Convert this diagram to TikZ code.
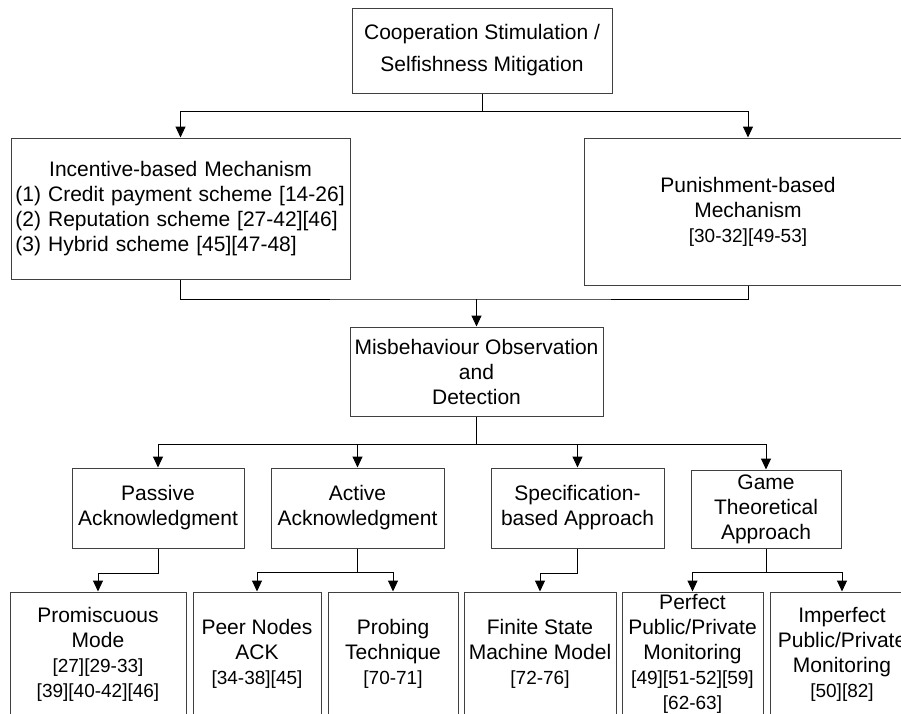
\documentclass[tikz,border=0pt]{standalone}
\usepackage{fontspec}
\setmainfont{Liberation Sans}
\usetikzlibrary{arrows.meta}
\newcommand{\refs}[1]{{\fontsize{19}{25}\selectfont #1}}

\begin{document}
\begin{tikzpicture}[x=1pt,y=-1pt,>={Triangle[length=11pt,width=10pt]},line cap=butt,line join=miter,
  box/.style={draw=black!75,line width=1pt,inner sep=0pt,align=center,font=\fontsize{21}{25}\selectfont},
  link/.style={draw=black,line width=1pt},
  arrow/.style={link,->}]
\useasboundingbox (0,0) rectangle (901,713);
\clip (0,0) rectangle (901,713);
% level 1 and 2
\node[box,minimum width=260,minimum height=85,font=\fontsize{21}{32}\selectfont] (root) at (482,50.5) {Cooperation Stimulation /\\Selfishness Mitigation};
\node[box,minimum width=339,minimum height=141,text width=330,align=left] (incent) at (180.5,208.5) {\hfill Incentive-based Mechanism\hfill\null\\(1) Credit payment scheme [14-26]\\(2) Reputation scheme [27-42][46]\\(3) Hybrid scheme [45][47-48]};
\node[box,minimum width=328,minimum height=147] (punish) at (748,211.5) {Punishment-based\\Mechanism\\\refs{[30-32][49-53]}};
\node[box,minimum width=253,minimum height=89] (misb) at (476.5,371.5) {Misbehaviour Observation\\and\\Detection};
% level 3
\node[box,minimum width=172,minimum height=80] (passive) at (158,508) {Passive\\Acknowledgment};
\node[box,minimum width=173,minimum height=80] (active) at (357.5,508) {Active\\Acknowledgment};
\node[box,minimum width=173,minimum height=80] (spec) at (577.5,508) {Specification-\\based Approach};
\node[box,minimum width=150,minimum height=78] (game) at (766,509) {Game\\Theoretical\\Approach};
% level 4
\node[box,minimum width=176,minimum height=124] (promis) at (98,654) {Promiscuous\\Mode\\\refs{[27][29-33]}\\\refs{[39][40-42][46]}};
\node[box,minimum width=128,minimum height=124] (peer) at (257,654) {Peer Nodes\\ACK\\\refs{[34-38][45]}};
\node[box,minimum width=130,minimum height=124] (probe) at (393,654) {Probing\\Technique\\\refs{[70-71]}};
\node[box,minimum width=152,minimum height=124] (fsm) at (540,654) {Finite State\\Machine Model\\\refs{[72-76]}};
\node[box,minimum width=141,minimum height=124] (perfect) at (692.5,654) {Perfect\\Public/Private\\Monitoring\\\refs{[49][51-52][59]}\\\refs{[62-63]}};
\node[box,minimum width=144,minimum height=124] (imperf) at (842,654) {Imperfect\\Public/Private\\Monitoring\\\refs{[50][82]}};
% junctions
\coordinate (j1) at (482,111);
\coordinate (j2) at (476.5,299);
\coordinate (j3) at (476.5,444);
\coordinate (j5) at (357.5,572.5);
\coordinate (j7) at (766,572.5);
% connectors
\draw[arrow] (root.south) -- (j1) -| (incent.north);
\draw[arrow] (j1) -| (punish.north);
\draw[link] (incent.south) |- (j2) -| (punish.south);
\draw[arrow] (j2) -- (misb.north);
\draw[link,line width=1.6pt] (misb.south) -- (j3);
\foreach \n in {passive,active,spec,game}
  \draw[arrow] (j3) -| (\n.north);
\draw[arrow] (passive.south) -- ++(0,24.5) -| (promis.north);
\draw[link] (active.south) -- (j5);
\draw[arrow] (j5) -| (peer.north);
\draw[arrow] (j5) -| (probe.north);
\draw[arrow] (spec.south) -- ++(0,24.5) -| (fsm.north);
\draw[link] (game.south) -- (j7);
\draw[arrow] (j7) -| (perfect.north);
\draw[arrow] (j7) -| (imperf.north);
\end{tikzpicture}
\end{document}
